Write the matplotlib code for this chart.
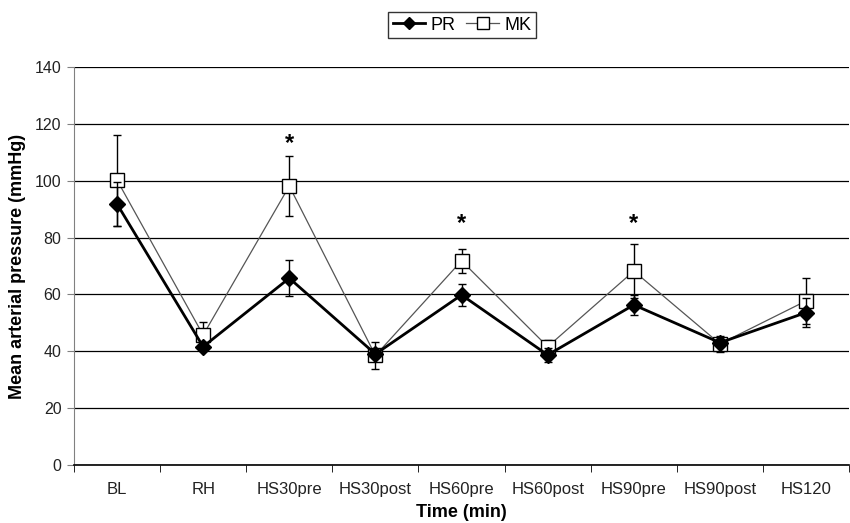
import numpy as np
import matplotlib
matplotlib.use("Agg")
import matplotlib.pyplot as plt
from matplotlib.lines import Line2D

plt.rcParams["font.family"] = ["Liberation Sans", "DejaVu Sans"]

# data
times = ["BL", "RH", "HS30pre", "HS30post", "HS60pre", "HS60post", "HS90pre", "HS90post", "HS120"]
pr_mean = [91.8, 41.6, 65.7, 39.0, 59.8, 38.7, 56.3, 43.0, 53.6]
pr_err = [7.6, 1.0, 6.3, 1.5, 4.0, 2.4, 3.5, 1.0, 5.2]
mk_mean = [100.2, 45.7, 98.1, 38.5, 71.8, 41.6, 68.2, 42.6, 57.7]
mk_err = [16.0, 4.5, 10.5, 4.7, 4.2, 2.4, 9.4, 2.9, 8.2]
star_pos = ["HS30pre", "HS60pre", "HS90pre"]
star_y = [113, 85, 85]

fig = plt.figure(figsize=(8.5, 5.23), dpi=100)
ax = fig.add_axes([0.087, 0.111, 0.912, 0.761])

x = np.arange(len(times))

ax.errorbar(x, mk_mean, yerr=mk_err, color="#555555", lw=0.9, marker="s", ms=10,
            mfc="white", mec="black", mew=1.0, ecolor="black", elinewidth=1.0,
            capsize=3, capthick=1.0, zorder=3)
ax.errorbar(x, pr_mean, yerr=pr_err, color="black", lw=2.0, marker="D", ms=8.5,
            mfc="black", mec="black", ecolor="black", elinewidth=1.0,
            capsize=3, capthick=1.0, zorder=4)

for name, yy in zip(star_pos, star_y):
    ax.text(times.index(name), yy, "*", ha="center", va="center", fontsize=17, fontweight="bold")

ax.set_xlim(-0.5, len(times) - 0.5)
ax.set_ylim(0, 140)
ax.set_yticks(np.arange(0, 141, 20))
ax.set_xticks(x)
ax.set_xticklabels(times, fontsize=12, color="#222222")
ax.set_xticks(np.arange(-0.5, len(times), 1.0), minor=True)
ax.tick_params(axis="x", which="major", length=0, pad=12)
ax.tick_params(axis="x", which="minor", length=5, color="black", direction="out")
ax.tick_params(axis="y", labelsize=11.5, length=5, color="#808080", direction="out", pad=4)
for lab in ax.get_yticklabels():
    lab.set_color("#222222")

ax.yaxis.grid(True, color="black", lw=0.9)
ax.set_axisbelow(True)
ax.spines["top"].set_visible(False)
ax.spines["right"].set_visible(False)
ax.spines["left"].set_color("#808080")
ax.spines["bottom"].set_color("black")
ax.spines["bottom"].set_linewidth(1.2)

ax.set_ylabel("Mean arterial pressure (mmHg)", fontsize=13, fontweight="bold", labelpad=6)
ax.set_xlabel("Time (min)", fontsize=13, fontweight="bold", labelpad=5)

handles = [
    Line2D([], [], color="black", lw=2.0, marker="D", ms=6, mfc="black", mec="black"),
    Line2D([], [], color="#555555", lw=0.9, marker="s", ms=8, mfc="white", mec="black", mew=1.0),
]
leg = fig.legend(handles, ["PR", "MK"], loc="center", bbox_to_anchor=(462 / 850, 1 - 25 / 523),
                 ncol=2, frameon=True, fancybox=False, edgecolor="black", fontsize=13,
                 handlelength=1.8, handletextpad=0.3, columnspacing=0.6, borderpad=0.25)
leg.get_frame().set_linewidth(1.0)

fig.savefig("out.png", dpi=100)
